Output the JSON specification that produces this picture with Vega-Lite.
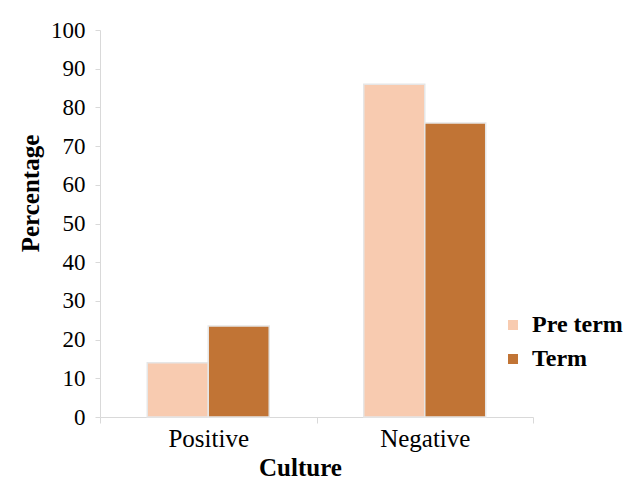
{
  "$schema": "https://vega.github.io/schema/vega-lite/v6.json",
  "autosize": "none",
  "width": 433,
  "height": 387,
  "padding": {"left": 100, "top": 30, "right": 105, "bottom": 62},
  "background": "white",
  "config": {
    "view": {"stroke": null},
    "font": "Liberation Serif"
  },
  "data": {
    "values": [
      {"culture": "Positive", "series": "Pre term", "value": 14},
      {"culture": "Positive", "series": "Term", "value": 23.5},
      {"culture": "Negative", "series": "Pre term", "value": 86},
      {"culture": "Negative", "series": "Term", "value": 76}
    ]
  },
  "mark": {"type": "bar", "stroke": "#e6e6e6", "strokeWidth": 1.5},
  "encoding": {
    "x": {
      "field": "culture",
      "type": "nominal",
      "sort": ["Positive", "Negative"],
      "scale": {"paddingInner": 0, "paddingOuter": 0},
      "axis": {
        "title": "Culture",
        "labelAngle": 0,
        "tickBand": "extent",
        "domainColor": "#d9d9d9",
        "tickColor": "#d9d9d9",
        "tickSize": 6,
        "labelFont": "Liberation Serif",
        "labelFontSize": 25,
        "labelColor": "black",
        "labelPadding": 3,
        "titleFont": "Liberation Serif",
        "titleFontSize": 25,
        "titleFontWeight": "bold",
        "titleColor": "black",
        "titleX": 200,
        "titleY": 50,
        "titleBaseline": "middle",
        "titleAlign": "center"
      }
    },
    "xOffset": {
      "field": "series",
      "type": "nominal",
      "sort": ["Pre term", "Term"],
      "scale": {"paddingInner": 0, "paddingOuter": 0.775}
    },
    "y": {
      "field": "value",
      "type": "quantitative",
      "scale": {"domain": [0, 100], "nice": false},
      "axis": {
        "title": "Percentage",
        "values": [0, 10, 20, 30, 40, 50, 60, 70, 80, 90, 100],
        "grid": false,
        "domainColor": "#d9d9d9",
        "tickColor": "#d9d9d9",
        "tickSize": 5,
        "labelFont": "Liberation Serif",
        "labelFontSize": 23,
        "labelColor": "black",
        "labelPadding": 10,
        "titleFont": "Liberation Serif",
        "titleFontSize": 25,
        "titleFontWeight": "bold",
        "titleColor": "black",
        "titleAngle": -90,
        "titleX": -70,
        "titleY": 163,
        "titleAlign": "center",
        "titleBaseline": "middle"
      }
    },
    "color": {
      "field": "series",
      "type": "nominal",
      "sort": ["Pre term", "Term"],
      "scale": {"domain": ["Pre term", "Term"], "range": ["#f8cbb0", "#c17435"]},
      "legend": {
        "title": null,
        "orient": "none",
        "legendX": 401,
        "legendY": 283,
        "symbolType": "square",
        "symbolSize": 100,
        "symbolStrokeWidth": 0,
        "labelFont": "Liberation Serif",
        "labelFontSize": 24,
        "labelFontWeight": "bold",
        "labelColor": "black",
        "labelOffset": 7,
        "rowPadding": 10
      }
    }
  }
}
